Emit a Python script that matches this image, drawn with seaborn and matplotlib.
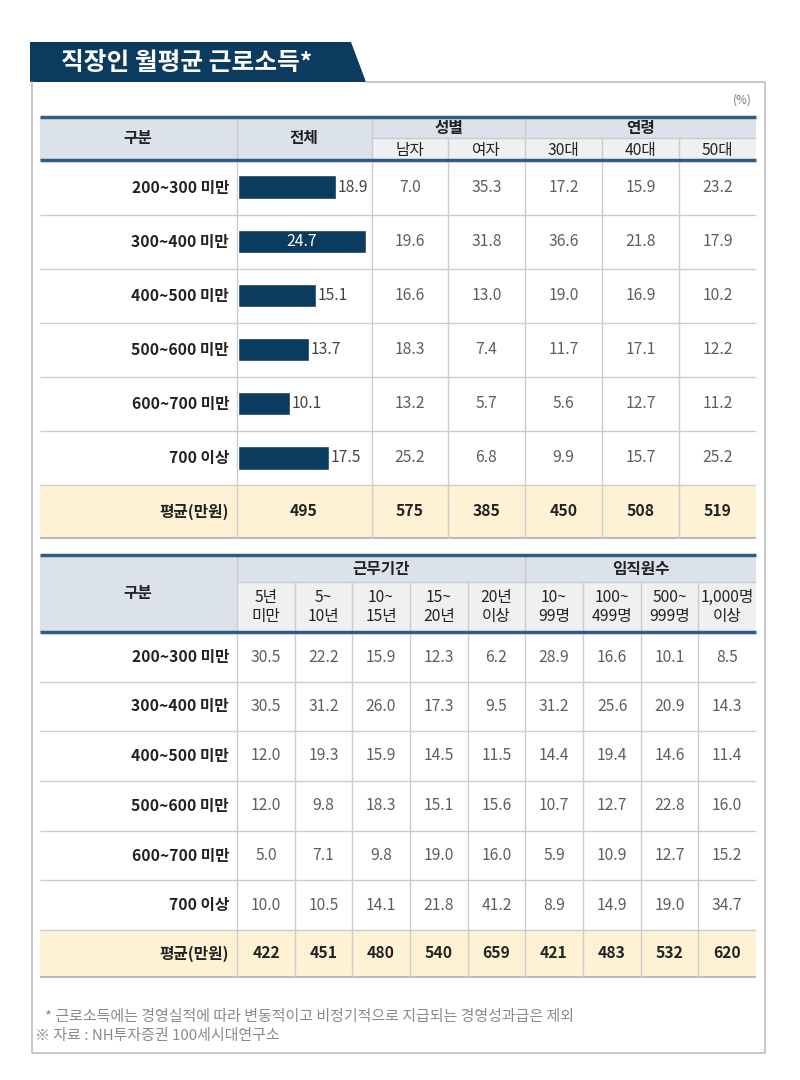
import matplotlib
matplotlib.use('Agg')
import matplotlib.pyplot as plt
import matplotlib.patches as mpatches
import seaborn as sns
import pandas as pd

sns.set_theme(style='white')
plt.rcParams['font.family'] = ['Noto Sans CJK KR', 'DejaVu Sans']

# ---- data ----
bands = ['200~300 미만', '300~400 미만', '400~500 미만', '500~600 미만', '600~700 미만', '700 이상']
total = [18.9, 24.7, 15.1, 13.7, 10.1, 17.5]
male = [7.0, 19.6, 16.6, 18.3, 13.2, 25.2]
female = [35.3, 31.8, 13.0, 7.4, 5.7, 6.8]
age30 = [17.2, 36.6, 19.0, 11.7, 5.6, 9.9]
age40 = [15.9, 21.8, 16.9, 17.1, 12.7, 15.7]
age50 = [23.2, 17.9, 10.2, 12.2, 11.2, 25.2]
avg_top = [495, 575, 385, 450, 508, 519]

tenure_labels = ['5년\n미만', '5~\n10년', '10~\n15년', '15~\n20년', '20년\n이상']
staff_labels = ['10~\n99명', '100~\n499명', '500~\n999명', '1,000명\n이상']
ten_lt5 = [30.5, 30.5, 12.0, 12.0, 5.0, 10.0]
ten_5_10 = [22.2, 31.2, 19.3, 9.8, 7.1, 10.5]
ten_10_15 = [15.9, 26.0, 15.9, 18.3, 9.8, 14.1]
ten_15_20 = [12.3, 17.3, 14.5, 15.1, 19.0, 21.8]
ten_20 = [6.2, 9.5, 11.5, 15.6, 16.0, 41.2]
staff_10_99 = [28.9, 31.2, 14.4, 10.7, 5.9, 8.9]
staff_100_499 = [16.6, 25.6, 19.4, 12.7, 10.9, 14.9]
staff_500_999 = [10.1, 20.9, 14.6, 22.8, 12.7, 19.0]
staff_1000 = [8.5, 14.3, 11.4, 16.0, 15.2, 34.7]
avg_bottom = [422, 451, 480, 540, 659, 421, 483, 532, 620]

NAVY = '#0c3b60'
LINE_DARK = '#2e5c82'
GRID = '#cccccc'
HEAD1 = '#dbe2ea'
HEAD2 = '#eff0f2'
YELLOW = '#fdf2d4'
TXT = '#222222'
VAL = '#5e5e5e'
FS = 11.3

fig = plt.figure(figsize=(8, 10.8), dpi=100)
ax = fig.add_axes([0, 0, 1, 1])
ax.set_xlim(0, 800)
ax.set_ylim(1080, 0)
ax.axis('off')

# title banner + outer box
ax.add_patch(mpatches.Polygon([(30, 42), (351, 42), (366, 82), (30, 82)], closed=True,
                              facecolor=NAVY, edgecolor='none'))
ax.text(61, 63, '직장인 월평균 근로소득*', color='white', fontsize=17.8, fontweight='bold',
        va='center', ha='left')
ax.plot([32, 32, 765, 765, 366], [82, 1053, 1053, 82, 82], color='#bdbdbd', lw=1.2)
ax.text(752, 100, '(%)', color='#777777', fontsize=8.5, ha='right', va='center')


def rect(x0, x1, y0, y1, c):
    ax.add_patch(mpatches.Rectangle((x0, y0), x1 - x0, y1 - y0, facecolor=c, edgecolor='none'))


def hline(y, x0=40, x1=756, c=GRID, lw=1):
    ax.plot([x0, x1], [y, y], color=c, lw=lw, solid_capstyle='butt')


def vline(x, y0, y1, c=GRID, lw=1):
    ax.plot([x, x], [y0, y1], color=c, lw=lw)


# ---- top table ----
tx = [40, 237, 372, 448, 525, 602, 679, 756]
t_top, t_mid, t_head = 117, 138, 160
t_rows = [160, 215, 269, 323, 377, 431, 485, 538]

rect(40, 372, t_top, t_head, HEAD1)
rect(372, 756, t_top, t_mid, HEAD1)
rect(372, 756, t_mid, t_head, HEAD2)
rect(40, 756, t_rows[-2], t_rows[-1], YELLOW)
for y in t_rows[1:-1]:
    hline(y)
hline(t_rows[-1], c='#bbbbbb', lw=1.5)
hline(t_mid, 372, 756, c='#c8ccd2')
for x in tx[1:-1]:
    vline(x, t_top if x in (237, 372, 525) else t_mid, t_rows[-1])
hline(t_top, c=LINE_DARK, lw=2.5)
hline(t_head, c=LINE_DARK, lw=2.5)

ax.text(138, 138, '구분', ha='center', va='center', fontsize=FS, fontweight='bold', color=TXT)
ax.text(304, 138, '전체', ha='center', va='center', fontsize=FS, fontweight='bold', color=TXT)
ax.text((372 + 525) / 2, 128, '성별', ha='center', va='center', fontsize=FS, fontweight='bold', color=TXT)
ax.text((525 + 756) / 2, 128, '연령', ha='center', va='center', fontsize=FS, fontweight='bold', color=TXT)
for lab, x0, x1 in zip(['남자', '여자', '30대', '40대', '50대'], tx[2:-1], tx[3:]):
    ax.text((x0 + x1) / 2, 150, lab, ha='center', va='center', fontsize=FS, color=TXT)

top_cols = [male, female, age30, age40, age50]
for i, band in enumerate(bands):
    yc = (t_rows[i] + t_rows[i + 1]) / 2
    ax.text(229, yc, band, ha='right', va='center', fontsize=FS, fontweight='bold', color=TXT)
    for j, col in enumerate(top_cols):
        ax.text((tx[j + 2] + tx[j + 3]) / 2, yc, f'{col[i]:.1f}', ha='center', va='center',
                fontsize=FS, color=VAL)
yc = (t_rows[-2] + t_rows[-1]) / 2
ax.text(229, yc, '평균(만원)', ha='right', va='center', fontsize=FS, fontweight='bold', color=TXT)
ax.text(304, yc, str(avg_top[0]), ha='center', va='center', fontsize=FS, fontweight='bold', color=TXT)
for j, v in enumerate(avg_top[1:]):
    ax.text((tx[j + 2] + tx[j + 3]) / 2, yc, str(v), ha='center', va='center',
            fontsize=FS, fontweight='bold', color=TXT)

# bar chart in the "전체" column
bax = fig.add_axes([238 / 800, 1 - 485 / 1080, 132 / 800, 325 / 1080])
df = pd.DataFrame({'band': bands, 'total': total})
sns.barplot(data=df, x='total', y='band', orient='h', color=NAVY, width=0.43,
            saturation=1, ax=bax)
bax.set_xlim(0, 25.5)
bax.set_ylim(5.5, -0.5)
bax.axis('off')
bax.patch.set_alpha(0)
vmax = max(total)
for i, v in enumerate(total):
    if v == vmax:
        bax.text(v / 2, i, f'{v:.1f}', ha='center', va='center', color='white', fontsize=FS)
    else:
        bax.text(v + 0.3, i, f'{v:.1f}', ha='left', va='center', color='#444444', fontsize=FS)

# ---- bottom table ----
bx = [40, 237, 295, 352, 410, 468, 525, 583, 641, 698, 756]
b_top, b_mid, b_head = 555, 582, 632
b_rows = [632, 682, 731, 781, 831, 880, 930, 977]

rect(40, 237, b_top, b_head, HEAD1)
rect(237, 756, b_top, b_mid, HEAD1)
rect(237, 756, b_mid, b_head, HEAD2)
rect(40, 756, b_rows[-2], b_rows[-1], YELLOW)
for y in b_rows[1:-1]:
    hline(y)
hline(b_rows[-1], c='#bbbbbb', lw=1.5)
hline(b_mid, 237, 756, c='#c8ccd2')
for x in bx[1:-1]:
    vline(x, b_top if x in (237, 525) else b_mid, b_rows[-1])
hline(b_top, c=LINE_DARK, lw=2.5)
hline(b_head, c=LINE_DARK, lw=2.5)

ax.text(138, 593, '구분', ha='center', va='center', fontsize=FS, fontweight='bold', color=TXT)
ax.text((237 + 525) / 2, 569, '근무기간', ha='center', va='center', fontsize=FS, fontweight='bold', color=TXT)
ax.text((525 + 756) / 2, 569, '임직원수', ha='center', va='center', fontsize=FS, fontweight='bold', color=TXT)
for lab, x0, x1 in zip(tenure_labels + staff_labels, bx[1:-1], bx[2:]):
    ax.text((x0 + x1) / 2, 607, lab, ha='center', va='center', fontsize=FS, color=TXT,
            linespacing=1.15)

bottom_cols = [ten_lt5, ten_5_10, ten_10_15, ten_15_20, ten_20,
               staff_10_99, staff_100_499, staff_500_999, staff_1000]
for i, band in enumerate(bands):
    yc = (b_rows[i] + b_rows[i + 1]) / 2
    ax.text(229, yc, band, ha='right', va='center', fontsize=FS, fontweight='bold', color=TXT)
    for j, col in enumerate(bottom_cols):
        ax.text((bx[j + 1] + bx[j + 2]) / 2, yc, f'{col[i]:.1f}', ha='center', va='center',
                fontsize=FS, color=VAL)
yc = (b_rows[-2] + b_rows[-1]) / 2
ax.text(229, yc, '평균(만원)', ha='right', va='center', fontsize=FS, fontweight='bold', color=TXT)
for j, v in enumerate(avg_bottom):
    ax.text((bx[j + 1] + bx[j + 2]) / 2, yc, str(v), ha='center', va='center',
            fontsize=FS, fontweight='bold', color=TXT)

# footnotes
ax.text(45, 1017, '* 근로소득에는 경영실적에 따라 변동적이고 비정기적으로 지급되는 경영성과급은 제외',
        ha='left', va='center', fontsize=10.8, color='#8a8a8a')
ax.text(35, 1036, '※ 자료 : NH투자증권 100세시대연구소', ha='left', va='center',
        fontsize=10.8, color='#8a8a8a')

fig.savefig('out.png', dpi=100, facecolor='white')
